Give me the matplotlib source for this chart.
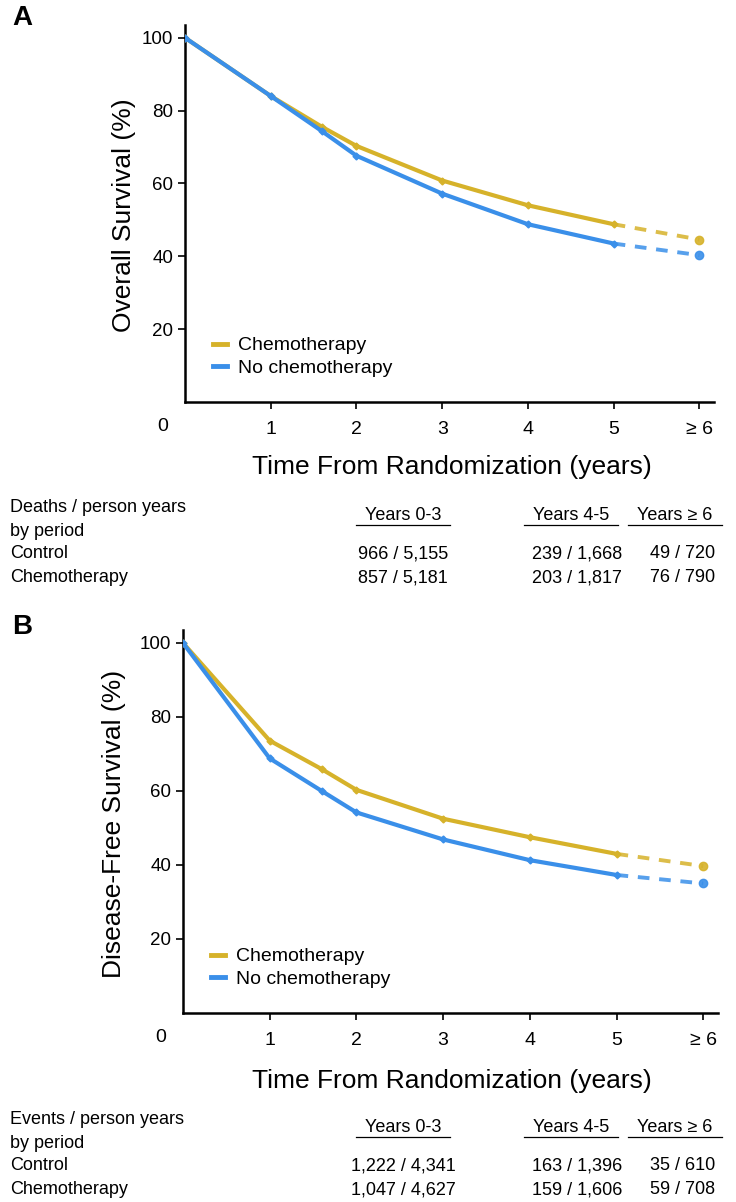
"""Overall and disease-free survival by treatment arm, with event tables."""
import matplotlib
matplotlib.use("Agg")
import matplotlib.pyplot as plt
from matplotlib.lines import Line2D

plt.rcParams["font.family"] = ["Liberation Sans", "DejaVu Sans"]

YELLOW = "#d6b22a"
BLUE = "#3a8fe9"

years = [0, 1, 1.6, 2, 3, 4, 5]
follow_up = [5, 6]
x_ticks = [1, 2, 3, 4, 5, 6]
x_tick_labels = ["1", "2", "3", "4", "5", "\u2265 6"]
y_ticks = [20, 40, 60, 80, 100]

# Panel A: overall survival (%)
os_chemo = [100, 84, 75.5, 70.3, 60.8, 54.0, 48.8]
os_chemo_tail = [48.8, 44.6]
os_control = [100, 84, 74.3, 67.6, 57.2, 48.8, 43.5]
os_control_tail = [43.5, 40.3]

# Panel B: disease-free survival (%)
dfs_chemo = [100, 73.6, 65.9, 60.3, 52.5, 47.5, 43.0]
dfs_chemo_tail = [43.0, 39.7]
dfs_control = [100, 68.8, 60.0, 54.2, 46.9, 41.3, 37.3]
dfs_control_tail = [37.3, 35.0]

periods = ["Years 0-3", "Years 4-5", "Years \u2265 6"]
os_control_counts = ["966 / 5,155", "239 / 1,668", "49 / 720"]
os_chemo_counts = ["857 / 5,181", "203 / 1,817", "76 / 790"]
dfs_control_counts = ["1,222 / 4,341", "163 / 1,396", "35 / 610"]
dfs_chemo_counts = ["1,047 / 4,627", "159 / 1,606", "59 / 708"]

W, H = 736, 1202
fig = plt.figure(figsize=(W / 100, H / 100), dpi=100)


def px(x, y):
    return x / W, 1 - y / H


def survival_panel(left, top, right, bottom, chemo, chemo_tail, ctrl, ctrl_tail,
                   ylabel, ylabel_x, letter, letter_y):
    ax = fig.add_axes([left / W, 1 - bottom / H, (right - left) / W, (bottom - top) / H])
    for vals, tail, col in [(chemo, chemo_tail, YELLOW), (ctrl, ctrl_tail, BLUE)]:
        ax.plot(years, vals, color=col, lw=3.0, marker="D", ms=3.5,
                solid_capstyle="round", zorder=3)
        ax.plot(follow_up, tail, color=col, lw=2.8, ls=(0, (3, 2.5)),
                alpha=0.85, zorder=3)
        ax.plot(follow_up[-1:], tail[-1:], color=col, marker="o", ms=6,
                alpha=0.9, zorder=3, ls="none")
    ax.set_xlim(0, 6.17)
    ax.set_ylim(0, 103.5)
    ax.set_xticks(x_ticks)
    ax.set_xticklabels(x_tick_labels, fontsize=14)
    ax.set_yticks(y_ticks)
    ax.set_yticklabels([str(v) for v in y_ticks], fontsize=13.5)
    for s in ("top", "right"):
        ax.spines[s].set_visible(False)
    for s in ("left", "bottom"):
        ax.spines[s].set_linewidth(1.8)
    ax.tick_params(axis="both", length=5, width=1.2, direction="out")
    ax.tick_params(axis="x", pad=9)
    ax.annotate("0", xy=(0, 0), xytext=(-16, -18), textcoords="offset points",
                ha="center", va="center", fontsize=14)
    handles = [Line2D([], [], color=YELLOW, lw=3.5), Line2D([], [], color=BLUE, lw=3.5)]
    ax.legend(handles, ["Chemotherapy", "No chemotherapy"], loc="lower left",
              bbox_to_anchor=(0.02, 0.02), frameon=False, fontsize=14,
              handlelength=0.7, handletextpad=0.6, labelspacing=0.25)
    fig.text(*px(ylabel_x, (top + bottom) / 2 + 2), ylabel, rotation=90,
             ha="center", va="center", fontsize=19)
    fig.text(*px(22, letter_y), letter, ha="center", va="center",
             fontsize=20, fontweight="bold")
    return ax


def event_table(title, ctrl_counts, chemo_counts, y0):
    fs = 13
    fig.text(*px(10, y0), title, ha="left", va="center", fontsize=fs)
    fig.text(*px(10, y0 + 24), "by period", ha="left", va="center", fontsize=fs)
    fig.text(*px(10, y0 + 47), "Control", ha="left", va="center", fontsize=fs)
    fig.text(*px(10, y0 + 71), "Chemotherapy", ha="left", va="center", fontsize=fs)
    header_x = [403, 571, 675]
    value_x = [403, 577, 683]
    for p, hx, vx, c1, c2 in zip(periods, header_x, value_x, ctrl_counts, chemo_counts):
        fig.text(*px(hx, y0 + 8), p, ha="center", va="center", fontsize=fs)
        half = 47
        fig.add_artist(Line2D([(hx - half) / W, (hx + half) / W],
                              [1 - (y0 + 18) / H] * 2, color="black", lw=0.9))
        fig.text(*px(vx, y0 + 47), c1, ha="center", va="center", fontsize=fs)
        fig.text(*px(vx, y0 + 71), c2, ha="center", va="center", fontsize=fs)


survival_panel(185, 25, 714, 402, os_chemo, os_chemo_tail, os_control,
               os_control_tail, "Overall Survival (%)", 124, "A", 18)
fig.text(*px(452, 467), "Time From Randomization (years)", ha="center",
         va="center", fontsize=19)
event_table("Deaths / person years", os_control_counts, os_chemo_counts, 507)

survival_panel(183, 630, 718, 1013, dfs_chemo, dfs_chemo_tail, dfs_control,
               dfs_control_tail, "Disease-Free Survival (%)", 114, "B", 627)
fig.text(*px(452, 1081), "Time From Randomization (years)", ha="center",
         va="center", fontsize=19)
event_table("Events / person years", dfs_control_counts, dfs_chemo_counts, 1119)

fig.savefig("out.png", dpi=100, facecolor="white")
